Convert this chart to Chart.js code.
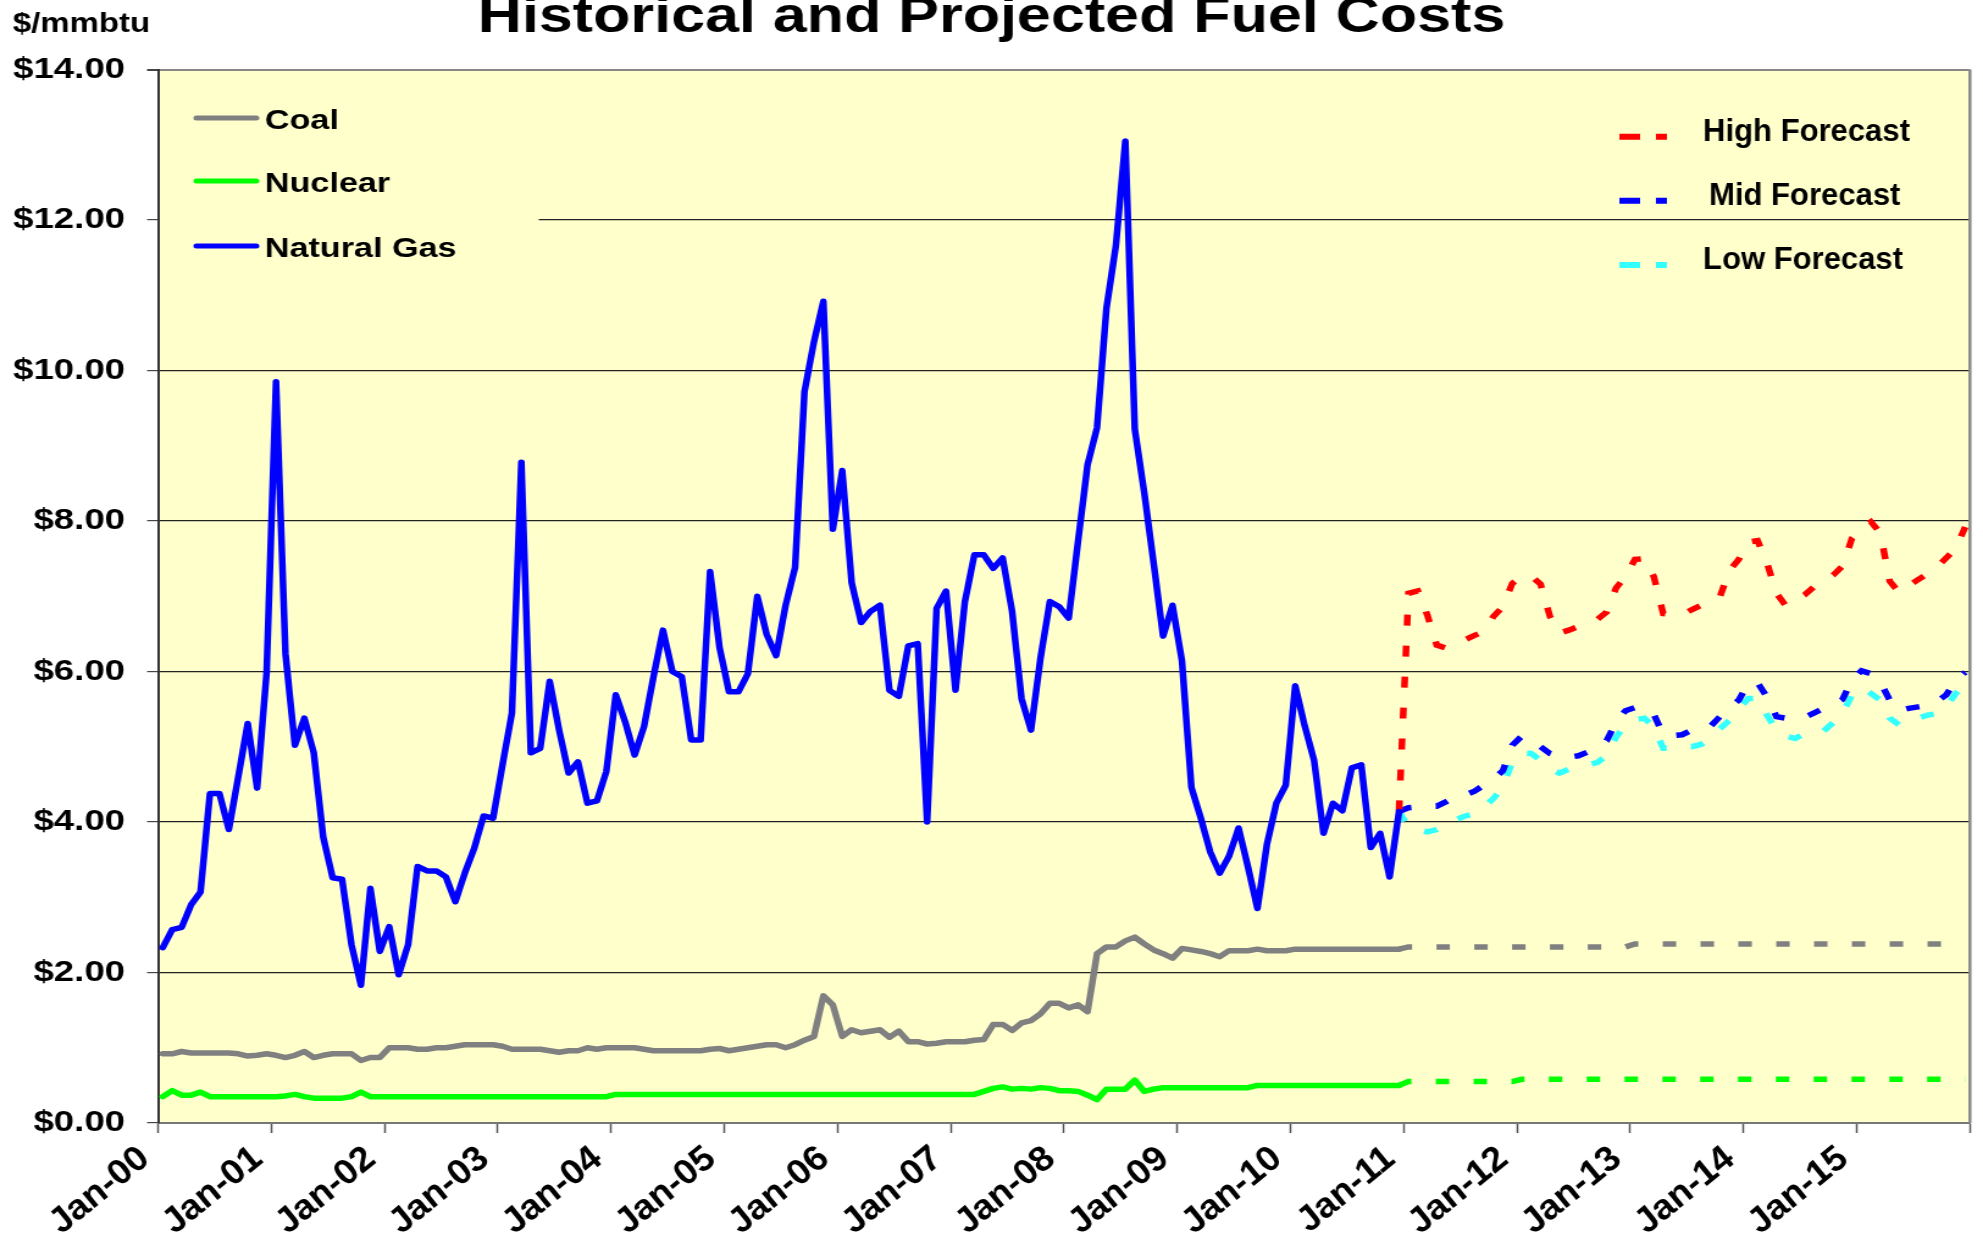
<!DOCTYPE html>
<html>
<head>
<meta charset="utf-8">
<title>Historical and Projected Fuel Costs</title>
<script src="https://cdn.jsdelivr.net/npm/chart.js@4/dist/chart.umd.min.js"></script>
<style>
  html, body { margin: 0; padding: 0; background: #fff; overflow: hidden; }
  #fuelChart { display: block; }
</style>
</head>
<body>
<!-- drawn at 1625 wide and stretched to 1983, like the wide-looking original -->
<canvas id="fuelChart" width="1625" height="1250" style="width:1983px;height:1250px"></canvas>
<script>
// one value per month, month 0 = Jan-00
const yearLabels = ["Jan-00", "Jan-01", "Jan-02", "Jan-03", "Jan-04", "Jan-05", "Jan-06", "Jan-07",
  "Jan-08", "Jan-09", "Jan-10", "Jan-11", "Jan-12", "Jan-13", "Jan-14", "Jan-15"];

const gasHist = [
  2.33, 2.57, 2.60, 2.90, 3.07, 4.38, 4.38, 3.90, 4.60, 5.31, 4.45, 5.98,
  9.85, 6.24, 5.02, 5.38, 4.92, 3.80, 3.26, 3.24, 2.37, 1.83, 3.12, 2.28,
  2.61, 1.97, 2.37, 3.41, 3.35, 3.35, 3.27, 2.94, 3.32, 3.65, 4.08, 4.05,
  4.76, 5.45, 8.78, 4.92, 4.98, 5.87, 5.22, 4.65, 4.80, 4.25, 4.28, 4.67,
  5.69, 5.33, 4.89, 5.27, 5.93, 6.55, 6.00, 5.93, 5.09, 5.09, 7.33, 6.32,
  5.73, 5.73, 5.97, 7.00, 6.49, 6.21, 6.88, 7.38, 9.72, 10.38, 10.92, 7.89,
  8.67, 7.18, 6.65, 6.80, 6.88, 5.75, 5.67, 6.34, 6.37, 4.00, 6.84, 7.07,
  5.75, 6.93, 7.55, 7.55, 7.37, 7.51, 6.80, 5.64, 5.22, 6.17, 6.93, 6.86,
  6.71, 7.74, 8.75, 9.24, 10.83, 11.66, 13.05, 9.22, 8.38, 7.44, 6.47, 6.88,
  6.14, 4.46, 4.05, 3.60, 3.32, 3.55, 3.92, 3.40, 2.85, 3.70, 4.25, 4.49,
  5.81, 5.28, 4.82, 3.85, 4.25, 4.15, 4.72, 4.76, 3.66, 3.85, 3.27, 4.14
];

const coalHist = [
  0.92, 0.92, 0.95, 0.93, 0.93, 0.93, 0.93, 0.93, 0.92, 0.89, 0.90, 0.92,
  0.90, 0.87, 0.90, 0.95, 0.87, 0.90, 0.92, 0.92, 0.92, 0.83, 0.87, 0.87,
  1.00, 1.00, 1.00, 0.98, 0.98, 1.00, 1.00, 1.02, 1.04, 1.04, 1.04, 1.04,
  1.02, 0.98, 0.98, 0.98, 0.98, 0.96, 0.94, 0.96, 0.96, 1.00, 0.98, 1.00,
  1.00, 1.00, 1.00, 0.98, 0.96, 0.96, 0.96, 0.96, 0.96, 0.96, 0.98, 0.99,
  0.96, 0.98, 1.00, 1.02, 1.04, 1.04, 1.00, 1.04, 1.10, 1.15, 1.69, 1.57,
  1.15, 1.24, 1.20, 1.22, 1.24, 1.14, 1.22, 1.08, 1.08, 1.05, 1.06, 1.08,
  1.08, 1.08, 1.10, 1.11, 1.31, 1.31, 1.23, 1.33, 1.36, 1.45, 1.59, 1.59,
  1.53, 1.57, 1.48, 2.25, 2.34, 2.34, 2.42, 2.47, 2.38, 2.30, 2.25, 2.19,
  2.32, 2.30, 2.28, 2.25, 2.21, 2.29, 2.29, 2.29, 2.31, 2.29, 2.29, 2.29,
  2.31, 2.31, 2.31, 2.31, 2.31, 2.31, 2.31, 2.31, 2.31, 2.31, 2.31, 2.31
];

const nuclearHist = [
  0.35, 0.43, 0.37, 0.37, 0.41, 0.35, 0.35, 0.35, 0.35, 0.35, 0.35, 0.35,
  0.35, 0.36, 0.38, 0.35, 0.33, 0.33, 0.33, 0.33, 0.35, 0.41, 0.35, 0.35,
  0.35, 0.35, 0.35, 0.35, 0.35, 0.35, 0.35, 0.35, 0.35, 0.35, 0.35, 0.35,
  0.35, 0.35, 0.35, 0.35, 0.35, 0.35, 0.35, 0.35, 0.35, 0.35, 0.35, 0.35,
  0.38, 0.38, 0.38, 0.38, 0.38, 0.38, 0.38, 0.38, 0.38, 0.38, 0.38, 0.38,
  0.38, 0.38, 0.38, 0.38, 0.38, 0.38, 0.38, 0.38, 0.38, 0.38, 0.38, 0.38,
  0.38, 0.38, 0.38, 0.38, 0.38, 0.38, 0.38, 0.38, 0.38, 0.38, 0.38, 0.38,
  0.38, 0.38, 0.38, 0.42, 0.46, 0.48, 0.45, 0.46, 0.45, 0.47, 0.46, 0.43,
  0.43, 0.42, 0.37, 0.31, 0.45, 0.45, 0.45, 0.57, 0.42, 0.45, 0.47, 0.47,
  0.47, 0.47, 0.47, 0.47, 0.47, 0.47, 0.47, 0.47, 0.50, 0.50, 0.50, 0.50,
  0.50, 0.50, 0.50, 0.50, 0.50, 0.50, 0.50, 0.50, 0.50, 0.50, 0.50, 0.50
];

// forecasts start from the last actual month (Dec-10) and run to Dec-15
const forecastStart = 131;

const gasHigh = [
  4.14, 7.04, 7.07, 6.75, 6.35, 6.31, 6.36, 6.42, 6.48, 6.53, 6.73, 6.86,
  7.17, 7.27, 7.27, 7.16, 6.73, 6.51, 6.55, 6.60, 6.64, 6.69, 6.79, 7.11,
  7.26, 7.49, 7.50, 7.26, 6.77, 6.75, 6.75, 6.82, 6.88, 6.92, 6.99, 7.34,
  7.49, 7.72, 7.74, 7.44, 7.04, 6.87, 6.95, 7.02, 7.13, 7.19, 7.28, 7.40,
  7.77, 7.90, 7.99, 7.84, 7.20, 7.05, 7.14, 7.22, 7.30, 7.39, 7.51, 7.64,
  7.92
];

const gasMid = [
  4.14, 4.19, 4.20, 4.21, 4.21, 4.27, 4.34, 4.36, 4.41, 4.49, 4.57, 4.68,
  5.02, 5.14, 5.06, 5.00, 4.91, 4.87, 4.86, 4.88, 4.93, 4.98, 5.08, 5.33,
  5.48, 5.52, 5.52, 5.43, 5.16, 5.15, 5.16, 5.22, 5.23, 5.27, 5.40, 5.51,
  5.62, 5.84, 5.85, 5.66, 5.40, 5.38, 5.38, 5.39, 5.45, 5.51, 5.55, 5.63,
  5.89, 6.01, 5.97, 5.86, 5.62, 5.48, 5.51, 5.53, 5.55, 5.60, 5.69, 5.89,
  5.99
];

const gasLow = [
  4.14, 3.93, 3.90, 3.87, 3.90, 3.98, 4.03, 4.08, 4.11, 4.20, 4.31, 4.47,
  4.80, 4.92, 4.91, 4.82, 4.71, 4.65, 4.70, 4.73, 4.76, 4.79, 4.88, 5.13,
  5.29, 5.36, 5.38, 5.26, 4.98, 4.98, 5.00, 5.00, 5.03, 5.11, 5.24, 5.35,
  5.50, 5.64, 5.64, 5.42, 5.22, 5.14, 5.11, 5.18, 5.18, 5.21, 5.32, 5.44,
  5.69, 5.79, 5.71, 5.62, 5.38, 5.29, 5.31, 5.38, 5.42, 5.44, 5.53, 5.71,
  5.84
];

const coalForecast = [
  2.31, 2.34, 2.34, 2.34, 2.34, 2.34, 2.34, 2.34, 2.34, 2.34, 2.34, 2.34,
  2.34, 2.34, 2.34, 2.34, 2.34, 2.34, 2.34, 2.34, 2.34, 2.34, 2.34, 2.34,
  2.34, 2.38, 2.38, 2.38, 2.38, 2.38, 2.38, 2.38, 2.38, 2.38, 2.38, 2.38,
  2.38, 2.38, 2.38, 2.38, 2.38, 2.38, 2.38, 2.38, 2.38, 2.38, 2.38, 2.38,
  2.38, 2.38, 2.38, 2.38, 2.38, 2.38, 2.38, 2.38, 2.38, 2.38, 2.38, 2.38,
  2.38
];

const nuclearForecast = [
  0.50, 0.55, 0.55, 0.55, 0.55, 0.55, 0.55, 0.55, 0.55, 0.55, 0.55, 0.55,
  0.55, 0.58, 0.58, 0.58, 0.58, 0.58, 0.58, 0.58, 0.58, 0.58, 0.58, 0.58,
  0.58, 0.58, 0.58, 0.58, 0.58, 0.58, 0.58, 0.58, 0.58, 0.58, 0.58, 0.58,
  0.58, 0.58, 0.58, 0.58, 0.58, 0.58, 0.58, 0.58, 0.58, 0.58, 0.58, 0.58,
  0.58, 0.58, 0.58, 0.58, 0.58, 0.58, 0.58, 0.58, 0.58, 0.58, 0.58, 0.58,
  0.58
];

const FONT = '"Liberation Sans", Arial, sans-serif';
const PLOT_BG = "#FFFFCC";

// points sit in the middle of their month
const toPoints = (values, start) => values.map((v, k) => ({ x: start + k + 0.5, y: v }));

const solid = (label, color, values) => ({
  label,
  data: toPoints(values, 0),
  borderColor: color,
  backgroundColor: color,
  borderWidth: 5.5,
  borderJoinStyle: "round",
  borderCapStyle: "round",
  pointRadius: 0,
  tension: 0,
  fill: false,
});

const dashed = (label, color, values) => ({
  label,
  data: toPoints(values, forecastStart),
  borderColor: color,
  backgroundColor: color,
  borderWidth: 5.5,
  borderDash: [11, 20],
  borderCapStyle: "butt",
  pointRadius: 0,
  tension: 0,
  fill: false,
});

const leftLegend = ["Coal", "Nuclear", "Natural Gas"];
const rightLegend = ["High Forecast", "Mid Forecast", "Low Forecast"];

// plot background, legends, plot frame and the unit label
const fuelDecor = {
  id: "fuelDecor",
  beforeDraw(chart) {
    const { ctx, chartArea: a, width, height } = chart;
    ctx.save();
    ctx.fillStyle = "#fff";
    ctx.fillRect(0, 0, width, height);
    ctx.fillStyle = PLOT_BG;
    ctx.fillRect(a.left, a.top, a.right - a.left, a.bottom - a.top);
    ctx.restore();
  },
  beforeDatasetsDraw(chart) {
    const { ctx, chartArea: a } = chart;
    const find = (label) => chart.data.datasets.find((d) => d.label === label);
    ctx.save();

    // right frame line
    ctx.strokeStyle = "#888";
    ctx.lineWidth = 2.5;
    ctx.beginPath();
    ctx.moveTo(a.right, a.top);
    ctx.lineTo(a.right, a.bottom);
    ctx.stroke();

    // left legend sits on an opaque box that hides the $12 gridline
    ctx.fillStyle = PLOT_BG;
    ctx.fillRect(a.left + 1.5, a.top + 1.5, 440 - a.left, 280 - a.top);
    const leftY = [118, 181, 246];
    leftLegend.forEach((label, k) => {
      const ds = find(label);
      ctx.strokeStyle = ds.borderColor;
      ctx.lineWidth = 5;
      ctx.lineCap = "round";
      ctx.setLineDash([]);
      ctx.beginPath();
      ctx.moveTo(161, leftY[k]);
      ctx.lineTo(210, leftY[k]);
      ctx.stroke();
      ctx.fillStyle = "#000";
      ctx.font = "bold 28px " + FONT;
      ctx.textBaseline = "middle";
      ctx.textAlign = "left";
      ctx.fillText(label, 217, leftY[k] + 3.5);
    });

    const rightY = [136.7, 200.7, 265];
    const rightTextX = [1395.6, 1400.5, 1395.6];
    rightLegend.forEach((label, k) => {
      const ds = find(label);
      ctx.strokeStyle = ds.borderColor;
      ctx.lineWidth = 6;
      ctx.lineCap = "butt";
      ctx.setLineDash([17, 13]);
      ctx.beginPath();
      ctx.moveTo(1327, rightY[k]);
      ctx.lineTo(1366, rightY[k]);
      ctx.stroke();
      ctx.setLineDash([]);
      ctx.fillStyle = "#000";
      ctx.font = "bold 31px " + FONT;
      ctx.textBaseline = "middle";
      ctx.textAlign = "left";
      ctx.save();
      ctx.translate(rightTextX[k], rightY[k] - 4.5);
      ctx.scale(0.82, 1); // narrow face in the original
      ctx.fillText(label, 0, 0);
      ctx.restore();
    });
    ctx.restore();
  },
  afterDraw(chart) {
    const { ctx } = chart;
    ctx.save();
    ctx.fillStyle = "#000";
    ctx.font = "bold 27px " + FONT;
    ctx.textBaseline = "alphabetic";
    ctx.textAlign = "left";
    ctx.fillText("$/mmbtu", 10.4, 31.5);
    ctx.restore();
  },
};

Chart.defaults.font.family = FONT;

new Chart(document.getElementById("fuelChart"), {
  type: "line",
  data: {
    datasets: [
      solid("Natural Gas", "#0000FF", gasHist),
      solid("Coal", "#808080", coalHist),
      solid("Nuclear", "#00FF00", nuclearHist),
      dashed("High Forecast", "#FF0000", gasHigh),
      dashed("Mid Forecast", "#0000FF", gasMid),
      dashed("Low Forecast", "#33FFFF", gasLow),
      dashed("Coal Forecast", "#808080", coalForecast),
      dashed("Nuclear Forecast", "#00FF00", nuclearForecast),
    ],
  },
  options: {
    responsive: false,
    devicePixelRatio: 1,
    animation: false,
    layout: { padding: { left: 10.7, right: 10.7, top: 0, bottom: 0 } },
    plugins: {
      legend: { display: false },
      tooltip: { enabled: false },
      title: {
        display: true,
        text: "Historical and Projected Fuel Costs",
        color: "#000",
        font: { size: 50, weight: "bold", lineHeight: 0.72 },
        padding: { top: 0, bottom: 33.5 },
      },
    },
    scales: {
      x: {
        type: "linear",
        min: 0,
        max: 192,
        afterFit: (scale) => {
          scale.height = 127;
          // rotated labels only hang to the left, the y axis already covers that
          scale.paddingLeft = 0;
          scale.paddingRight = 0;
        },
        border: { display: true, color: "#777", width: 2 },
        grid: { drawOnChartArea: false, drawTicks: true, tickLength: 10, tickColor: "#555", tickWidth: 1.5 },
        ticks: {
          stepSize: 12,
          autoSkip: false,
          maxRotation: 45,
          minRotation: 45,
          padding: 7,
          labelOffset: -11,
          color: "#000",
          font: { size: 33, weight: "bold", style: "italic" },
          callback: (v) => yearLabels[v / 12] ?? "",
        },
      },
      y: {
        min: 0,
        max: 14,
        afterFit: (scale) => { scale.width = 118.8; },
        border: { display: true, color: "#333", width: 2 },
        grid: {
          color: (c) => (c.tick && c.tick.value === 14 ? "#888" : "#222"),
          lineWidth: (c) => (c.tick && c.tick.value === 14 ? 2 : 1.2),
          tickLength: 9,
          tickColor: "#444",
        },
        ticks: {
          stepSize: 2,
          padding: 18,
          color: "#000",
          font: { size: 30, weight: "bold" },
          callback: (v) => "$" + v.toFixed(2),
        },
      },
    },
  },
  plugins: [fuelDecor],
});
</script>
</body>
</html>
